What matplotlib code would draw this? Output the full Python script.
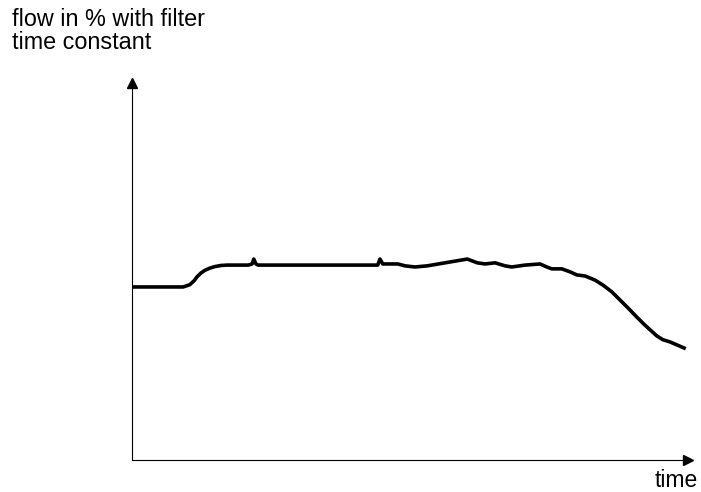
import matplotlib
matplotlib.use("Agg")
from matplotlib import pyplot as plt

# time and flow (% of axis height)
time = [0, 9.2, 10.4, 11.2, 11.7, 12.4, 13.1, 14.0, 14.9, 16.0, 17.1, 20.9,
        21.6, 21.9, 22.3, 22.7, 44.2, 44.6, 45.1, 47.8, 49.1, 50.9, 53.1,
        56.3, 60.3, 62.1, 63.5, 65.3, 67.1, 68.3, 70.7, 73.4, 74.6, 75.5,
        77.3, 78.8, 80.0, 81.5, 83.3, 84.7, 86.3, 87.8, 89.3, 90.8, 92.1,
        93.2, 94.4, 95.5, 96.8, 99.3]
flow = [45.9, 45.9, 46.5, 47.6, 48.6, 49.6, 50.3, 50.9, 51.3, 51.6, 51.7, 51.7,
        52.0, 53.3, 52.0, 51.7, 51.7, 53.3, 52.0, 52.0, 51.5, 51.2, 51.5,
        52.3, 53.3, 52.3, 52.0, 52.3, 51.5, 51.2, 51.7, 52.0, 51.2, 50.7,
        50.7, 49.9, 49.1, 48.8, 47.7, 46.4, 44.6, 42.4, 40.2, 37.9, 36.0,
        34.5, 32.9, 31.9, 31.3, 29.7]

ylabel = "flow in % with filter\ntime constant"
xlabel = "time"

plt.rcParams['font.family'] = ['Liberation Sans', 'DejaVu Sans']

fig = plt.figure(figsize=(7.01, 4.92), dpi=100)
ax = fig.add_axes([132 / 701, 32 / 492, 556 / 701, 377 / 492])

ax.plot(time, flow, color="black", linewidth=2.6, solid_joinstyle="round")
ax.set_xlim(0, 100)
ax.set_ylim(0, 100)

for side in ("top", "right"):
    ax.spines[side].set_visible(False)
for side in ("left", "bottom"):
    ax.spines[side].set_linewidth(0.8)
ax.set_xticks([])
ax.set_yticks([])

# arrow heads on the axes
ax.plot(1, 0, marker=">", color="black", markersize=7, transform=ax.transAxes, clip_on=False)
ax.plot(0, 1, marker="^", color="black", markersize=7, transform=ax.transAxes, clip_on=False)

fig.text(12 / 701, 1 - 8 / 492, ylabel, fontsize=16.8, ha="left", va="top", linespacing=1.0)
fig.text(698 / 701, 5 / 492, xlabel, fontsize=16.5, ha="right", va="baseline")

fig.savefig("out.png", dpi=100)
